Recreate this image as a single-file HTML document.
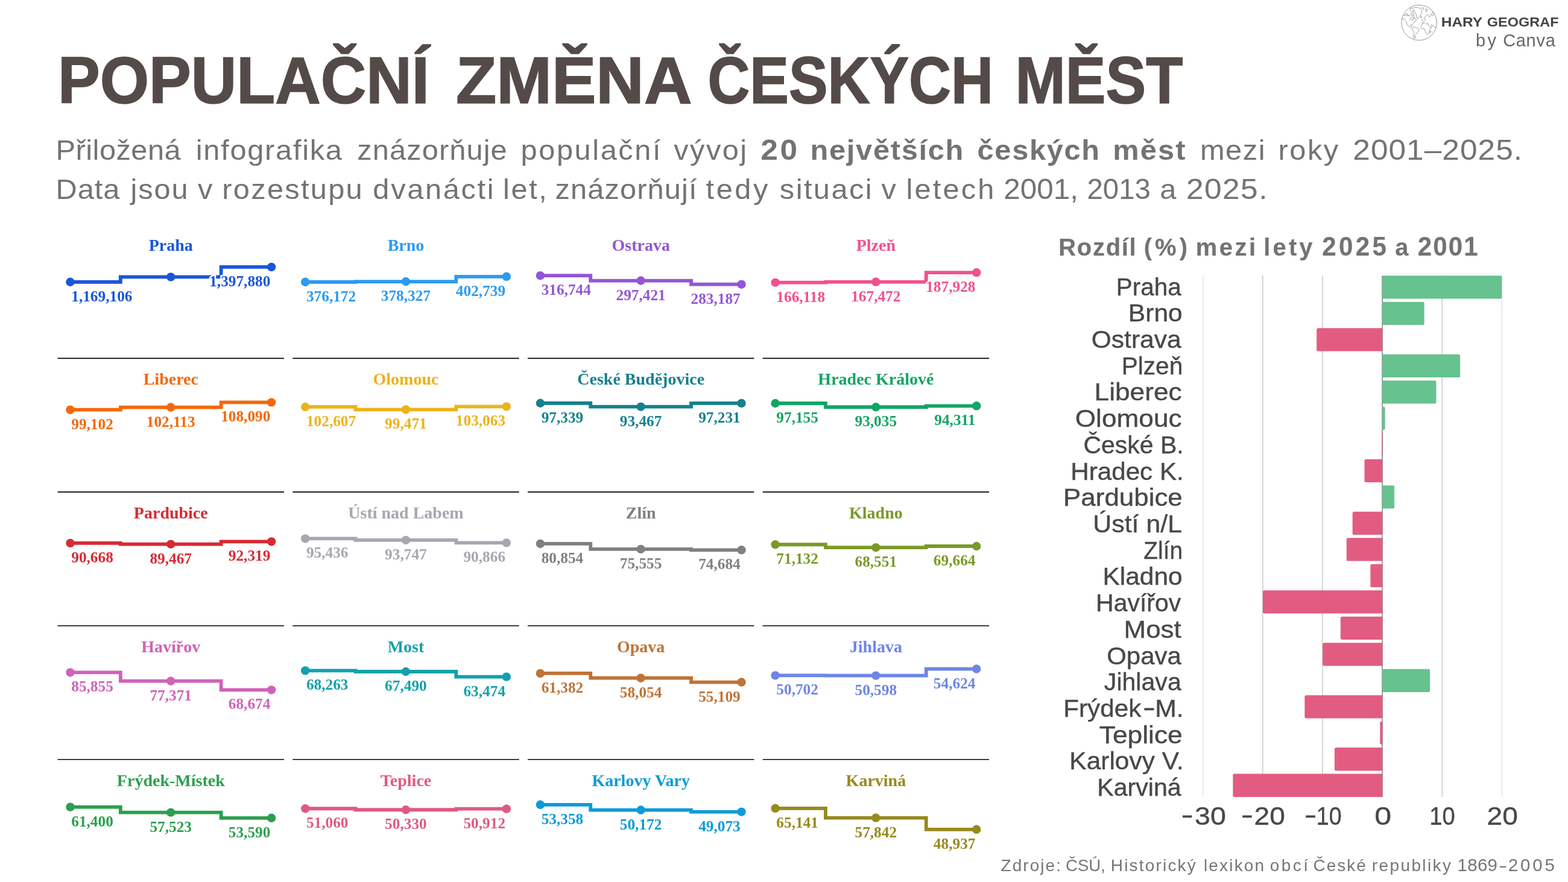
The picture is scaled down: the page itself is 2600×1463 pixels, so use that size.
<!DOCTYPE html>
<html lang="cs">
<head>
<meta charset="utf-8">
<title>Populační změna českých měst</title>
<style>
html,body{margin:0;padding:0;background:#fff;}
body{width:2600px;height:1463px;overflow:hidden;}
svg{display:block;}
text{white-space:pre;}
</style>
</head>
<body>
<svg xmlns="http://www.w3.org/2000/svg" width="2600" height="1463" viewBox="0 0 2600 1463">
<rect width="2600" height="1463" fill="#ffffff"/>
<g fill="none" stroke="#868686" stroke-width="0.8" stroke-linejoin="round" stroke-linecap="round"><circle cx="2353.15" cy="37.55" r="29.3" stroke="#8a8a8a" stroke-width="0.9"/><path d="M2338.29,15.01 L2339.32,13.87 L2341.91,13.35 L2344.50,13.20 L2346.57,12.52 L2349.67,12.16 L2351.84,12.42 L2353.19,13.76 L2355.88,13.97 L2358.73,13.04 L2360.54,12.94 L2361.31,13.87 L2360.12,15.42 L2358.21,16.14 L2356.40,17.49 L2357.02,19.40 L2356.66,21.73 L2355.88,24.32 L2355.26,26.49 L2353.40,27.32 L2352.15,28.72 L2351.38,30.94 L2350.29,31.36 L2349.26,30.27 L2348.74,27.43 L2348.12,24.32 L2347.34,21.22 L2345.53,20.28 L2344.24,19.56 L2343.36,17.85 L2343.98,16.46 L2345.27,16.46 L2345.53,17.59 L2344.60,18.37"/><path d="M2338.29,15.01 L2338.39,16.56 L2339.32,17.85 L2340.25,19.77 L2341.65,20.44 L2343.20,19.92"/><path d="M2363.64,15.52 L2364.94,14.75 L2366.75,15.01 L2367.26,15.52 L2365.97,16.30 L2365.45,17.59 L2366.49,18.37 L2366.23,19.40 L2364.68,19.66 L2363.64,18.37 L2363.38,16.82Z"/><path d="M2376.58,19.92 L2375.03,20.70 L2373.73,22.25 L2372.96,24.06 L2373.47,25.61 L2375.03,26.13 L2376.58,25.87 L2377.10,24.32 L2376.32,22.77 L2376.84,21.22"/><path d="M2324.57,31.57 L2326.90,31.05 L2328.45,31.82 L2330.01,33.64 L2331.30,35.19 L2332.34,37.77 L2333.11,40.36 L2334.40,42.43 L2335.70,42.95 L2337.25,45.02 L2339.32,45.54 L2341.39,46.31 L2342.43,47.35 L2341.39,48.90 L2342.43,50.97 L2343.98,52.26 L2345.01,54.33 L2344.24,56.92 L2343.46,60.03 L2343.46,62.61 L2344.50,63.65 L2345.53,63.39 L2345.79,61.06 L2346.82,57.96 L2348.64,55.89 L2350.19,53.82 L2352.00,52.26 L2353.29,49.94 L2352.26,48.12 L2350.19,46.83 L2348.12,46.05 L2346.05,45.54 L2343.98,45.02 L2342.43,44.50 L2340.87,43.47 L2339.32,42.95 L2338.80,41.91 L2340.36,41.40 L2342.43,40.36 L2343.98,38.29 L2346.05,35.71 L2348.64,34.15 L2347.60,32.34 L2346.05,31.05 L2345.53,28.98 L2345.01,26.91 L2343.98,24.84"/><path d="M2327.16,25.61 L2329.39,25.46 L2330.52,23.91 L2332.34,21.73 L2333.73,22.77 L2333.21,24.73 L2334.77,25.87 L2336.22,25.25 L2337.35,26.39 L2335.60,26.49 L2333.63,25.87 L2332.34,24.32 L2331.14,25.46 L2330.01,25.87"/><path d="M2339.84,22.77 L2342.94,22.51 L2343.98,24.32 L2342.94,25.87 L2340.87,25.61 L2339.32,24.32Z"/><path d="M2338.29,31.05 L2339.84,28.98 L2341.91,27.94 L2343.72,28.98 L2345.01,30.79 L2343.20,30.27 L2341.91,32.08 L2342.43,33.89 L2340.87,33.64 L2339.32,32.08Z"/><path d="M2368.82,28.20 L2370.37,27.94 L2371.40,26.91 L2369.33,25.36 L2367.26,24.06 L2365.45,24.84 L2363.90,26.91 L2362.35,29.24 L2361.31,30.79 L2363.12,31.57 L2363.90,32.60 L2362.35,33.64 L2360.54,35.71 L2358.98,37.26 L2357.95,38.81 L2358.98,39.84 L2360.54,37.77 L2362.61,37.26 L2364.68,39.33 L2366.23,40.36 L2367.26,38.29 L2368.30,39.84 L2369.33,42.43 L2370.89,44.50 L2372.44,45.54 L2373.99,43.98 L2375.03,42.43 L2372.96,41.14 L2374.51,41.91 L2376.58,42.95 L2378.13,45.02 L2379.68,46.05 L2381.49,44.50"/><path d="M2358.98,39.84 L2356.91,42.43 L2355.88,44.50 L2356.40,46.57 L2357.95,48.12 L2360.02,47.35 L2361.57,47.61 L2362.61,49.68 L2363.38,52.26 L2364.16,54.85 L2365.45,57.18 L2366.75,57.44 L2368.30,55.89 L2369.59,53.82 L2370.37,51.23 L2370.89,49.16 L2371.92,47.09 L2373.47,45.54"/><path d="M2370.89,51.75 L2372.44,51.49 L2372.18,53.82 L2371.14,54.33Z"/><path d="M2355.62,27.94 L2357.17,27.68 L2357.43,28.98 L2355.88,29.24Z"/><path d="M2357.69,32.86 L2358.73,33.12 L2358.36,33.89Z"/><path d="M2346.98,61.58 L2347.70,61.84 L2347.34,62.35Z"/></g>
<g>
<line x1="95.60" x2="471.00" y1="594.40" y2="594.40" stroke="#000" stroke-width="1.6"/>
<path d="M116.50,467.75 H199.85 V459.40 H366.65 V442.96 H450.10" fill="none" stroke="#1a56db" stroke-width="5.8" stroke-linejoin="miter"/>
<circle cx="116.50" cy="467.75" r="7.2" fill="#1a56db"/>
<circle cx="283.20" cy="459.40" r="7.2" fill="#1a56db"/>
<circle cx="450.10" cy="442.96" r="7.2" fill="#1a56db"/>
<text x="283.30" y="416.20" text-anchor="middle" font-family="'Liberation Serif', serif" font-weight="700" font-size="28.0" fill="#1a56db">Praha</text>
<text x="118.25" y="499.75" text-anchor="start" font-family="'Liberation Serif', serif" font-weight="700" font-size="25.3" fill="#1a56db" stroke="#fff" stroke-width="5" stroke-linejoin="round" paint-order="stroke">1,169,106</text>
<text x="448.35" y="474.96" text-anchor="end" font-family="'Liberation Serif', serif" font-weight="700" font-size="25.3" fill="#1a56db" stroke="#fff" stroke-width="5" stroke-linejoin="round" paint-order="stroke">1,397,880</text>
</g>
<g>
<line x1="485.30" x2="860.70" y1="594.40" y2="594.40" stroke="#000" stroke-width="1.6"/>
<path d="M506.20,467.76 H589.55 V467.03 H756.35 V458.81 H839.80" fill="none" stroke="#2b9af3" stroke-width="5.8" stroke-linejoin="miter"/>
<circle cx="506.20" cy="467.76" r="7.2" fill="#2b9af3"/>
<circle cx="672.90" cy="467.03" r="7.2" fill="#2b9af3"/>
<circle cx="839.80" cy="458.81" r="7.2" fill="#2b9af3"/>
<text x="673.00" y="416.20" text-anchor="middle" font-family="'Liberation Serif', serif" font-weight="700" font-size="28.0" fill="#2b9af3">Brno</text>
<text x="507.95" y="499.76" text-anchor="start" font-family="'Liberation Serif', serif" font-weight="700" font-size="25.3" fill="#2b9af3" stroke="#fff" stroke-width="5" stroke-linejoin="round" paint-order="stroke">376,172</text>
<text x="672.90" y="499.03" text-anchor="middle" font-family="'Liberation Serif', serif" font-weight="700" font-size="25.3" fill="#2b9af3" stroke="#fff" stroke-width="5" stroke-linejoin="round" paint-order="stroke">378,327</text>
<text x="838.05" y="490.81" text-anchor="end" font-family="'Liberation Serif', serif" font-weight="700" font-size="25.3" fill="#2b9af3" stroke="#fff" stroke-width="5" stroke-linejoin="round" paint-order="stroke">402,739</text>
</g>
<g>
<line x1="875.00" x2="1250.40" y1="594.40" y2="594.40" stroke="#000" stroke-width="1.6"/>
<path d="M895.90,457.16 H979.25 V465.53 H1146.05 V471.70 H1229.50" fill="none" stroke="#9455d6" stroke-width="5.8" stroke-linejoin="miter"/>
<circle cx="895.90" cy="457.16" r="7.2" fill="#9455d6"/>
<circle cx="1062.60" cy="465.53" r="7.2" fill="#9455d6"/>
<circle cx="1229.50" cy="471.70" r="7.2" fill="#9455d6"/>
<text x="1062.70" y="416.20" text-anchor="middle" font-family="'Liberation Serif', serif" font-weight="700" font-size="28.0" fill="#9455d6">Ostrava</text>
<text x="897.65" y="489.16" text-anchor="start" font-family="'Liberation Serif', serif" font-weight="700" font-size="25.3" fill="#9455d6" stroke="#fff" stroke-width="5" stroke-linejoin="round" paint-order="stroke">316,744</text>
<text x="1062.60" y="497.53" text-anchor="middle" font-family="'Liberation Serif', serif" font-weight="700" font-size="25.3" fill="#9455d6" stroke="#fff" stroke-width="5" stroke-linejoin="round" paint-order="stroke">297,421</text>
<text x="1227.75" y="503.70" text-anchor="end" font-family="'Liberation Serif', serif" font-weight="700" font-size="25.3" fill="#9455d6" stroke="#fff" stroke-width="5" stroke-linejoin="round" paint-order="stroke">283,187</text>
</g>
<g>
<line x1="1264.70" x2="1640.10" y1="594.40" y2="594.40" stroke="#000" stroke-width="1.6"/>
<path d="M1285.60,468.58 H1368.95 V467.56 H1535.75 V452.06 H1619.20" fill="none" stroke="#f2508f" stroke-width="5.8" stroke-linejoin="miter"/>
<circle cx="1285.60" cy="468.58" r="7.2" fill="#f2508f"/>
<circle cx="1452.30" cy="467.56" r="7.2" fill="#f2508f"/>
<circle cx="1619.20" cy="452.06" r="7.2" fill="#f2508f"/>
<text x="1452.40" y="416.20" text-anchor="middle" font-family="'Liberation Serif', serif" font-weight="700" font-size="28.0" fill="#f2508f">Plzeň</text>
<text x="1287.35" y="500.58" text-anchor="start" font-family="'Liberation Serif', serif" font-weight="700" font-size="25.3" fill="#f2508f" stroke="#fff" stroke-width="5" stroke-linejoin="round" paint-order="stroke">166,118</text>
<text x="1452.30" y="499.56" text-anchor="middle" font-family="'Liberation Serif', serif" font-weight="700" font-size="25.3" fill="#f2508f" stroke="#fff" stroke-width="5" stroke-linejoin="round" paint-order="stroke">167,472</text>
<text x="1617.45" y="484.06" text-anchor="end" font-family="'Liberation Serif', serif" font-weight="700" font-size="25.3" fill="#f2508f" stroke="#fff" stroke-width="5" stroke-linejoin="round" paint-order="stroke">187,928</text>
</g>
<g>
<line x1="95.60" x2="471.00" y1="816.17" y2="816.17" stroke="#000" stroke-width="1.6"/>
<path d="M116.50,679.71 H199.85 V675.56 H366.65 V667.33 H450.10" fill="none" stroke="#f5680a" stroke-width="5.8" stroke-linejoin="miter"/>
<circle cx="116.50" cy="679.71" r="7.2" fill="#f5680a"/>
<circle cx="283.20" cy="675.56" r="7.2" fill="#f5680a"/>
<circle cx="450.10" cy="667.33" r="7.2" fill="#f5680a"/>
<text x="283.30" y="638.15" text-anchor="middle" font-family="'Liberation Serif', serif" font-weight="700" font-size="28.0" fill="#f5680a">Liberec</text>
<text x="118.25" y="711.71" text-anchor="start" font-family="'Liberation Serif', serif" font-weight="700" font-size="25.3" fill="#f5680a" stroke="#fff" stroke-width="5" stroke-linejoin="round" paint-order="stroke">99,102</text>
<text x="283.20" y="707.56" text-anchor="middle" font-family="'Liberation Serif', serif" font-weight="700" font-size="25.3" fill="#f5680a" stroke="#fff" stroke-width="5" stroke-linejoin="round" paint-order="stroke">102,113</text>
<text x="448.35" y="699.33" text-anchor="end" font-family="'Liberation Serif', serif" font-weight="700" font-size="25.3" fill="#f5680a" stroke="#fff" stroke-width="5" stroke-linejoin="round" paint-order="stroke">108,090</text>
</g>
<g>
<line x1="485.30" x2="860.70" y1="816.17" y2="816.17" stroke="#000" stroke-width="1.6"/>
<path d="M506.20,674.97 H589.55 V679.29 H756.35 V674.34 H839.80" fill="none" stroke="#ecb318" stroke-width="5.8" stroke-linejoin="miter"/>
<circle cx="506.20" cy="674.97" r="7.2" fill="#ecb318"/>
<circle cx="672.90" cy="679.29" r="7.2" fill="#ecb318"/>
<circle cx="839.80" cy="674.34" r="7.2" fill="#ecb318"/>
<text x="673.00" y="638.15" text-anchor="middle" font-family="'Liberation Serif', serif" font-weight="700" font-size="28.0" fill="#ecb318">Olomouc</text>
<text x="507.95" y="706.97" text-anchor="start" font-family="'Liberation Serif', serif" font-weight="700" font-size="25.3" fill="#ecb318" stroke="#fff" stroke-width="5" stroke-linejoin="round" paint-order="stroke">102,607</text>
<text x="672.90" y="711.29" text-anchor="middle" font-family="'Liberation Serif', serif" font-weight="700" font-size="25.3" fill="#ecb318" stroke="#fff" stroke-width="5" stroke-linejoin="round" paint-order="stroke">99,471</text>
<text x="838.05" y="706.34" text-anchor="end" font-family="'Liberation Serif', serif" font-weight="700" font-size="25.3" fill="#ecb318" stroke="#fff" stroke-width="5" stroke-linejoin="round" paint-order="stroke">103,063</text>
</g>
<g>
<line x1="875.00" x2="1250.40" y1="816.17" y2="816.17" stroke="#000" stroke-width="1.6"/>
<path d="M895.90,668.76 H979.25 V674.62 H1146.05 V668.92 H1229.50" fill="none" stroke="#15808f" stroke-width="5.8" stroke-linejoin="miter"/>
<circle cx="895.90" cy="668.76" r="7.2" fill="#15808f"/>
<circle cx="1062.60" cy="674.62" r="7.2" fill="#15808f"/>
<circle cx="1229.50" cy="668.92" r="7.2" fill="#15808f"/>
<text x="1062.70" y="638.15" text-anchor="middle" font-family="'Liberation Serif', serif" font-weight="700" font-size="28.0" fill="#15808f">České Budějovice</text>
<text x="897.65" y="700.76" text-anchor="start" font-family="'Liberation Serif', serif" font-weight="700" font-size="25.3" fill="#15808f" stroke="#fff" stroke-width="5" stroke-linejoin="round" paint-order="stroke">97,339</text>
<text x="1062.60" y="706.62" text-anchor="middle" font-family="'Liberation Serif', serif" font-weight="700" font-size="25.3" fill="#15808f" stroke="#fff" stroke-width="5" stroke-linejoin="round" paint-order="stroke">93,467</text>
<text x="1227.75" y="700.92" text-anchor="end" font-family="'Liberation Serif', serif" font-weight="700" font-size="25.3" fill="#15808f" stroke="#fff" stroke-width="5" stroke-linejoin="round" paint-order="stroke">97,231</text>
</g>
<g>
<line x1="1264.70" x2="1640.10" y1="816.17" y2="816.17" stroke="#000" stroke-width="1.6"/>
<path d="M1285.60,669.01 H1368.95 V675.25 H1535.75 V673.32 H1619.20" fill="none" stroke="#12a564" stroke-width="5.8" stroke-linejoin="miter"/>
<circle cx="1285.60" cy="669.01" r="7.2" fill="#12a564"/>
<circle cx="1452.30" cy="675.25" r="7.2" fill="#12a564"/>
<circle cx="1619.20" cy="673.32" r="7.2" fill="#12a564"/>
<text x="1452.40" y="638.15" text-anchor="middle" font-family="'Liberation Serif', serif" font-weight="700" font-size="28.0" fill="#12a564">Hradec Králové</text>
<text x="1287.35" y="701.01" text-anchor="start" font-family="'Liberation Serif', serif" font-weight="700" font-size="25.3" fill="#12a564" stroke="#fff" stroke-width="5" stroke-linejoin="round" paint-order="stroke">97,155</text>
<text x="1452.30" y="707.25" text-anchor="middle" font-family="'Liberation Serif', serif" font-weight="700" font-size="25.3" fill="#12a564" stroke="#fff" stroke-width="5" stroke-linejoin="round" paint-order="stroke">93,035</text>
<text x="1617.45" y="705.32" text-anchor="end" font-family="'Liberation Serif', serif" font-weight="700" font-size="25.3" fill="#12a564" stroke="#fff" stroke-width="5" stroke-linejoin="round" paint-order="stroke">94,311</text>
</g>
<g>
<line x1="95.60" x2="471.00" y1="1037.94" y2="1037.94" stroke="#000" stroke-width="1.6"/>
<path d="M116.50,900.83 H199.85 V902.64 H366.65 V898.33 H450.10" fill="none" stroke="#d62b34" stroke-width="5.8" stroke-linejoin="miter"/>
<circle cx="116.50" cy="900.83" r="7.2" fill="#d62b34"/>
<circle cx="283.20" cy="902.64" r="7.2" fill="#d62b34"/>
<circle cx="450.10" cy="898.33" r="7.2" fill="#d62b34"/>
<text x="283.30" y="860.10" text-anchor="middle" font-family="'Liberation Serif', serif" font-weight="700" font-size="28.0" fill="#d62b34">Pardubice</text>
<text x="118.25" y="932.83" text-anchor="start" font-family="'Liberation Serif', serif" font-weight="700" font-size="25.3" fill="#d62b34" stroke="#fff" stroke-width="5" stroke-linejoin="round" paint-order="stroke">90,668</text>
<text x="283.20" y="934.64" text-anchor="middle" font-family="'Liberation Serif', serif" font-weight="700" font-size="25.3" fill="#d62b34" stroke="#fff" stroke-width="5" stroke-linejoin="round" paint-order="stroke">89,467</text>
<text x="448.35" y="930.33" text-anchor="end" font-family="'Liberation Serif', serif" font-weight="700" font-size="25.3" fill="#d62b34" stroke="#fff" stroke-width="5" stroke-linejoin="round" paint-order="stroke">92,319</text>
</g>
<g>
<line x1="485.30" x2="860.70" y1="1037.94" y2="1037.94" stroke="#000" stroke-width="1.6"/>
<path d="M506.20,893.40 H589.55 V895.96 H756.35 V900.33 H839.80" fill="none" stroke="#a5a8b0" stroke-width="5.8" stroke-linejoin="miter"/>
<circle cx="506.20" cy="893.40" r="7.2" fill="#a5a8b0"/>
<circle cx="672.90" cy="895.96" r="7.2" fill="#a5a8b0"/>
<circle cx="839.80" cy="900.33" r="7.2" fill="#a5a8b0"/>
<text x="673.00" y="860.10" text-anchor="middle" font-family="'Liberation Serif', serif" font-weight="700" font-size="28.0" fill="#a5a8b0">Ústí nad Labem</text>
<text x="507.95" y="925.40" text-anchor="start" font-family="'Liberation Serif', serif" font-weight="700" font-size="25.3" fill="#a5a8b0" stroke="#fff" stroke-width="5" stroke-linejoin="round" paint-order="stroke">95,436</text>
<text x="672.90" y="927.96" text-anchor="middle" font-family="'Liberation Serif', serif" font-weight="700" font-size="25.3" fill="#a5a8b0" stroke="#fff" stroke-width="5" stroke-linejoin="round" paint-order="stroke">93,747</text>
<text x="838.05" y="932.33" text-anchor="end" font-family="'Liberation Serif', serif" font-weight="700" font-size="25.3" fill="#a5a8b0" stroke="#fff" stroke-width="5" stroke-linejoin="round" paint-order="stroke">90,866</text>
</g>
<g>
<line x1="875.00" x2="1250.40" y1="1037.94" y2="1037.94" stroke="#000" stroke-width="1.6"/>
<path d="M895.90,901.94 H979.25 V910.85 H1146.05 V912.32 H1229.50" fill="none" stroke="#808080" stroke-width="5.8" stroke-linejoin="miter"/>
<circle cx="895.90" cy="901.94" r="7.2" fill="#808080"/>
<circle cx="1062.60" cy="910.85" r="7.2" fill="#808080"/>
<circle cx="1229.50" cy="912.32" r="7.2" fill="#808080"/>
<text x="1062.70" y="860.10" text-anchor="middle" font-family="'Liberation Serif', serif" font-weight="700" font-size="28.0" fill="#808080">Zlín</text>
<text x="897.65" y="933.94" text-anchor="start" font-family="'Liberation Serif', serif" font-weight="700" font-size="25.3" fill="#808080" stroke="#fff" stroke-width="5" stroke-linejoin="round" paint-order="stroke">80,854</text>
<text x="1062.60" y="942.85" text-anchor="middle" font-family="'Liberation Serif', serif" font-weight="700" font-size="25.3" fill="#808080" stroke="#fff" stroke-width="5" stroke-linejoin="round" paint-order="stroke">75,555</text>
<text x="1227.75" y="944.32" text-anchor="end" font-family="'Liberation Serif', serif" font-weight="700" font-size="25.3" fill="#808080" stroke="#fff" stroke-width="5" stroke-linejoin="round" paint-order="stroke">74,684</text>
</g>
<g>
<line x1="1264.70" x2="1640.10" y1="1037.94" y2="1037.94" stroke="#000" stroke-width="1.6"/>
<path d="M1285.60,903.24 H1368.95 V908.13 H1535.75 V906.02 H1619.20" fill="none" stroke="#7a9a27" stroke-width="5.8" stroke-linejoin="miter"/>
<circle cx="1285.60" cy="903.24" r="7.2" fill="#7a9a27"/>
<circle cx="1452.30" cy="908.13" r="7.2" fill="#7a9a27"/>
<circle cx="1619.20" cy="906.02" r="7.2" fill="#7a9a27"/>
<text x="1452.40" y="860.10" text-anchor="middle" font-family="'Liberation Serif', serif" font-weight="700" font-size="28.0" fill="#7a9a27">Kladno</text>
<text x="1287.35" y="935.24" text-anchor="start" font-family="'Liberation Serif', serif" font-weight="700" font-size="25.3" fill="#7a9a27" stroke="#fff" stroke-width="5" stroke-linejoin="round" paint-order="stroke">71,132</text>
<text x="1452.30" y="940.13" text-anchor="middle" font-family="'Liberation Serif', serif" font-weight="700" font-size="25.3" fill="#7a9a27" stroke="#fff" stroke-width="5" stroke-linejoin="round" paint-order="stroke">68,551</text>
<text x="1617.45" y="938.02" text-anchor="end" font-family="'Liberation Serif', serif" font-weight="700" font-size="25.3" fill="#7a9a27" stroke="#fff" stroke-width="5" stroke-linejoin="round" paint-order="stroke">69,664</text>
</g>
<g>
<line x1="95.60" x2="471.00" y1="1259.71" y2="1259.71" stroke="#000" stroke-width="1.6"/>
<path d="M116.50,1115.46 H199.85 V1129.71 H366.65 V1144.33 H450.10" fill="none" stroke="#d062b8" stroke-width="5.8" stroke-linejoin="miter"/>
<circle cx="116.50" cy="1115.46" r="7.2" fill="#d062b8"/>
<circle cx="283.20" cy="1129.71" r="7.2" fill="#d062b8"/>
<circle cx="450.10" cy="1144.33" r="7.2" fill="#d062b8"/>
<text x="283.30" y="1082.05" text-anchor="middle" font-family="'Liberation Serif', serif" font-weight="700" font-size="28.0" fill="#d062b8">Havířov</text>
<text x="118.25" y="1147.46" text-anchor="start" font-family="'Liberation Serif', serif" font-weight="700" font-size="25.3" fill="#d062b8" stroke="#fff" stroke-width="5" stroke-linejoin="round" paint-order="stroke">85,855</text>
<text x="283.20" y="1161.71" text-anchor="middle" font-family="'Liberation Serif', serif" font-weight="700" font-size="25.3" fill="#d062b8" stroke="#fff" stroke-width="5" stroke-linejoin="round" paint-order="stroke">77,371</text>
<text x="448.35" y="1176.33" text-anchor="end" font-family="'Liberation Serif', serif" font-weight="700" font-size="25.3" fill="#d062b8" stroke="#fff" stroke-width="5" stroke-linejoin="round" paint-order="stroke">68,674</text>
</g>
<g>
<line x1="485.30" x2="860.70" y1="1259.71" y2="1259.71" stroke="#000" stroke-width="1.6"/>
<path d="M506.20,1112.33 H589.55 V1114.00 H756.35 V1122.67 H839.80" fill="none" stroke="#12a1ac" stroke-width="5.8" stroke-linejoin="miter"/>
<circle cx="506.20" cy="1112.33" r="7.2" fill="#12a1ac"/>
<circle cx="672.90" cy="1114.00" r="7.2" fill="#12a1ac"/>
<circle cx="839.80" cy="1122.67" r="7.2" fill="#12a1ac"/>
<text x="673.00" y="1082.05" text-anchor="middle" font-family="'Liberation Serif', serif" font-weight="700" font-size="28.0" fill="#12a1ac">Most</text>
<text x="507.95" y="1144.33" text-anchor="start" font-family="'Liberation Serif', serif" font-weight="700" font-size="25.3" fill="#12a1ac" stroke="#fff" stroke-width="5" stroke-linejoin="round" paint-order="stroke">68,263</text>
<text x="672.90" y="1146.00" text-anchor="middle" font-family="'Liberation Serif', serif" font-weight="700" font-size="25.3" fill="#12a1ac" stroke="#fff" stroke-width="5" stroke-linejoin="round" paint-order="stroke">67,490</text>
<text x="838.05" y="1154.67" text-anchor="end" font-family="'Liberation Serif', serif" font-weight="700" font-size="25.3" fill="#12a1ac" stroke="#fff" stroke-width="5" stroke-linejoin="round" paint-order="stroke">63,474</text>
</g>
<g>
<line x1="875.00" x2="1250.40" y1="1259.71" y2="1259.71" stroke="#000" stroke-width="1.6"/>
<path d="M895.90,1116.96 H979.25 V1124.70 H1146.05 V1131.55 H1229.50" fill="none" stroke="#c07336" stroke-width="5.8" stroke-linejoin="miter"/>
<circle cx="895.90" cy="1116.96" r="7.2" fill="#c07336"/>
<circle cx="1062.60" cy="1124.70" r="7.2" fill="#c07336"/>
<circle cx="1229.50" cy="1131.55" r="7.2" fill="#c07336"/>
<text x="1062.70" y="1082.05" text-anchor="middle" font-family="'Liberation Serif', serif" font-weight="700" font-size="28.0" fill="#c07336">Opava</text>
<text x="897.65" y="1148.96" text-anchor="start" font-family="'Liberation Serif', serif" font-weight="700" font-size="25.3" fill="#c07336" stroke="#fff" stroke-width="5" stroke-linejoin="round" paint-order="stroke">61,382</text>
<text x="1062.60" y="1156.70" text-anchor="middle" font-family="'Liberation Serif', serif" font-weight="700" font-size="25.3" fill="#c07336" stroke="#fff" stroke-width="5" stroke-linejoin="round" paint-order="stroke">58,054</text>
<text x="1227.75" y="1163.55" text-anchor="end" font-family="'Liberation Serif', serif" font-weight="700" font-size="25.3" fill="#c07336" stroke="#fff" stroke-width="5" stroke-linejoin="round" paint-order="stroke">55,109</text>
</g>
<g>
<line x1="1264.70" x2="1640.10" y1="1259.71" y2="1259.71" stroke="#000" stroke-width="1.6"/>
<path d="M1285.60,1120.33 H1368.95 V1120.62 H1535.75 V1109.55 H1619.20" fill="none" stroke="#6e85e5" stroke-width="5.8" stroke-linejoin="miter"/>
<circle cx="1285.60" cy="1120.33" r="7.2" fill="#6e85e5"/>
<circle cx="1452.30" cy="1120.62" r="7.2" fill="#6e85e5"/>
<circle cx="1619.20" cy="1109.55" r="7.2" fill="#6e85e5"/>
<text x="1452.40" y="1082.05" text-anchor="middle" font-family="'Liberation Serif', serif" font-weight="700" font-size="28.0" fill="#6e85e5">Jihlava</text>
<text x="1287.35" y="1152.33" text-anchor="start" font-family="'Liberation Serif', serif" font-weight="700" font-size="25.3" fill="#6e85e5" stroke="#fff" stroke-width="5" stroke-linejoin="round" paint-order="stroke">50,702</text>
<text x="1452.30" y="1152.62" text-anchor="middle" font-family="'Liberation Serif', serif" font-weight="700" font-size="25.3" fill="#6e85e5" stroke="#fff" stroke-width="5" stroke-linejoin="round" paint-order="stroke">50,598</text>
<text x="1617.45" y="1141.55" text-anchor="end" font-family="'Liberation Serif', serif" font-weight="700" font-size="25.3" fill="#6e85e5" stroke="#fff" stroke-width="5" stroke-linejoin="round" paint-order="stroke">54,624</text>
</g>
<g>
<path d="M116.50,1338.64 H199.85 V1347.66 H366.65 V1356.81 H450.10" fill="none" stroke="#2ca04e" stroke-width="5.8" stroke-linejoin="miter"/>
<circle cx="116.50" cy="1338.64" r="7.2" fill="#2ca04e"/>
<circle cx="283.20" cy="1347.66" r="7.2" fill="#2ca04e"/>
<circle cx="450.10" cy="1356.81" r="7.2" fill="#2ca04e"/>
<text x="283.30" y="1304.00" text-anchor="middle" font-family="'Liberation Serif', serif" font-weight="700" font-size="28.0" fill="#2ca04e">Frýdek-Místek</text>
<text x="118.25" y="1370.64" text-anchor="start" font-family="'Liberation Serif', serif" font-weight="700" font-size="25.3" fill="#2ca04e" stroke="#fff" stroke-width="5" stroke-linejoin="round" paint-order="stroke">61,400</text>
<text x="283.20" y="1379.66" text-anchor="middle" font-family="'Liberation Serif', serif" font-weight="700" font-size="25.3" fill="#2ca04e" stroke="#fff" stroke-width="5" stroke-linejoin="round" paint-order="stroke">57,523</text>
<text x="448.35" y="1388.81" text-anchor="end" font-family="'Liberation Serif', serif" font-weight="700" font-size="25.3" fill="#2ca04e" stroke="#fff" stroke-width="5" stroke-linejoin="round" paint-order="stroke">53,590</text>
</g>
<g>
<path d="M506.20,1341.26 H589.55 V1343.27 H756.35 V1341.67 H839.80" fill="none" stroke="#e05a80" stroke-width="5.8" stroke-linejoin="miter"/>
<circle cx="506.20" cy="1341.26" r="7.2" fill="#e05a80"/>
<circle cx="672.90" cy="1343.27" r="7.2" fill="#e05a80"/>
<circle cx="839.80" cy="1341.67" r="7.2" fill="#e05a80"/>
<text x="673.00" y="1304.00" text-anchor="middle" font-family="'Liberation Serif', serif" font-weight="700" font-size="28.0" fill="#e05a80">Teplice</text>
<text x="507.95" y="1373.26" text-anchor="start" font-family="'Liberation Serif', serif" font-weight="700" font-size="25.3" fill="#e05a80" stroke="#fff" stroke-width="5" stroke-linejoin="round" paint-order="stroke">51,060</text>
<text x="672.90" y="1375.27" text-anchor="middle" font-family="'Liberation Serif', serif" font-weight="700" font-size="25.3" fill="#e05a80" stroke="#fff" stroke-width="5" stroke-linejoin="round" paint-order="stroke">50,330</text>
<text x="838.05" y="1373.67" text-anchor="end" font-family="'Liberation Serif', serif" font-weight="700" font-size="25.3" fill="#e05a80" stroke="#fff" stroke-width="5" stroke-linejoin="round" paint-order="stroke">50,912</text>
</g>
<g>
<path d="M895.90,1334.82 H979.25 V1343.57 H1146.05 V1346.59 H1229.50" fill="none" stroke="#0d9bd8" stroke-width="5.8" stroke-linejoin="miter"/>
<circle cx="895.90" cy="1334.82" r="7.2" fill="#0d9bd8"/>
<circle cx="1062.60" cy="1343.57" r="7.2" fill="#0d9bd8"/>
<circle cx="1229.50" cy="1346.59" r="7.2" fill="#0d9bd8"/>
<text x="1062.70" y="1304.00" text-anchor="middle" font-family="'Liberation Serif', serif" font-weight="700" font-size="28.0" fill="#0d9bd8">Karlovy Vary</text>
<text x="897.65" y="1366.82" text-anchor="start" font-family="'Liberation Serif', serif" font-weight="700" font-size="25.3" fill="#0d9bd8" stroke="#fff" stroke-width="5" stroke-linejoin="round" paint-order="stroke">53,358</text>
<text x="1062.60" y="1375.57" text-anchor="middle" font-family="'Liberation Serif', serif" font-weight="700" font-size="25.3" fill="#0d9bd8" stroke="#fff" stroke-width="5" stroke-linejoin="round" paint-order="stroke">50,172</text>
<text x="1227.75" y="1378.59" text-anchor="end" font-family="'Liberation Serif', serif" font-weight="700" font-size="25.3" fill="#0d9bd8" stroke="#fff" stroke-width="5" stroke-linejoin="round" paint-order="stroke">49,073</text>
</g>
<g>
<path d="M1285.60,1340.81 H1368.95 V1356.57 H1535.75 V1375.80 H1619.20" fill="none" stroke="#978a1e" stroke-width="5.8" stroke-linejoin="miter"/>
<circle cx="1285.60" cy="1340.81" r="7.2" fill="#978a1e"/>
<circle cx="1452.30" cy="1356.57" r="7.2" fill="#978a1e"/>
<circle cx="1619.20" cy="1375.80" r="7.2" fill="#978a1e"/>
<text x="1452.40" y="1304.00" text-anchor="middle" font-family="'Liberation Serif', serif" font-weight="700" font-size="28.0" fill="#978a1e">Karviná</text>
<text x="1287.35" y="1372.81" text-anchor="start" font-family="'Liberation Serif', serif" font-weight="700" font-size="25.3" fill="#978a1e" stroke="#fff" stroke-width="5" stroke-linejoin="round" paint-order="stroke">65,141</text>
<text x="1452.30" y="1388.57" text-anchor="middle" font-family="'Liberation Serif', serif" font-weight="700" font-size="25.3" fill="#978a1e" stroke="#fff" stroke-width="5" stroke-linejoin="round" paint-order="stroke">57,842</text>
<text x="1617.45" y="1407.80" text-anchor="end" font-family="'Liberation Serif', serif" font-weight="700" font-size="25.3" fill="#978a1e" stroke="#fff" stroke-width="5" stroke-linejoin="round" paint-order="stroke">48,937</text>
</g>
<g>
<rect x="1994.63" y="456.9" width="0.65" height="865.10" fill="#c1c1c1"/>
<rect x="2093.14" y="456.9" width="1.30" height="865.10" fill="#c1c1c1"/>
<rect x="2192.31" y="456.9" width="1.30" height="865.10" fill="#c1c1c1"/>
<rect x="2291.32" y="456.9" width="1.5" height="865.10" fill="#808080"/>
<rect x="2390.64" y="456.9" width="1.30" height="865.10" fill="#c1c1c1"/>
<rect x="2489.80" y="456.9" width="0.65" height="865.10" fill="#c1c1c1"/>
<path d="M2292.27,457.30 H2487.70 Q2490.30,457.30 2490.30,459.90 V493.00 Q2490.30,495.60 2487.70,495.60 H2292.27 Z" fill="#66c28f"/>
<path d="M2292.27,500.79 H2359.09 Q2361.69,500.79 2361.69,503.39 V536.49 Q2361.69,539.09 2359.09,539.09 H2292.27 Z" fill="#66c28f"/>
<path d="M2292.27,544.28 H2185.79 Q2183.19,544.28 2183.19,546.88 V579.98 Q2183.19,582.58 2185.79,582.58 H2292.27 Z" fill="#e25c81"/>
<path d="M2292.27,587.77 H2418.59 Q2421.19,587.77 2421.19,590.37 V623.47 Q2421.19,626.07 2418.59,626.07 H2292.27 Z" fill="#66c28f"/>
<path d="M2292.27,631.26 H2378.92 Q2381.52,631.26 2381.52,633.86 V666.96 Q2381.52,669.56 2378.92,669.56 H2292.27 Z" fill="#66c28f"/>
<path d="M2292.27,674.75 H2294.50 Q2296.73,674.75 2296.73,676.98 V710.82 Q2296.73,713.05 2294.50,713.05 H2292.27 Z" fill="#66c28f"/>
<path d="M2292.27,718.24 H2291.68 Q2291.08,718.24 2291.08,718.83 V755.95 Q2291.08,756.54 2291.68,756.54 H2292.27 Z" fill="#e25c81"/>
<path d="M2292.27,761.73 H2265.12 Q2262.52,761.73 2262.52,764.33 V797.43 Q2262.52,800.03 2265.12,800.03 H2292.27 Z" fill="#e25c81"/>
<path d="M2292.27,805.22 H2309.50 Q2312.10,805.22 2312.10,807.82 V840.92 Q2312.10,843.52 2309.50,843.52 H2292.27 Z" fill="#66c28f"/>
<path d="M2292.27,848.71 H2245.29 Q2242.69,848.71 2242.69,851.31 V884.41 Q2242.69,887.01 2245.29,887.01 H2292.27 Z" fill="#e25c81"/>
<path d="M2292.27,892.20 H2235.37 Q2232.77,892.20 2232.77,894.80 V927.90 Q2232.77,930.50 2235.37,930.50 H2292.27 Z" fill="#e25c81"/>
<path d="M2292.27,935.69 H2275.04 Q2272.44,935.69 2272.44,938.29 V971.39 Q2272.44,973.99 2275.04,973.99 H2292.27 Z" fill="#e25c81"/>
<path d="M2292.27,979.18 H2096.54 Q2093.94,979.18 2093.94,981.78 V1014.88 Q2093.94,1017.48 2096.54,1017.48 H2292.27 Z" fill="#e25c81"/>
<path d="M2292.27,1022.67 H2225.46 Q2222.86,1022.67 2222.86,1025.27 V1058.37 Q2222.86,1060.97 2225.46,1060.97 H2292.27 Z" fill="#e25c81"/>
<path d="M2292.27,1066.16 H2195.71 Q2193.11,1066.16 2193.11,1068.76 V1101.86 Q2193.11,1104.46 2195.71,1104.46 H2292.27 Z" fill="#e25c81"/>
<path d="M2292.27,1109.65 H2368.51 Q2371.11,1109.65 2371.11,1112.25 V1145.35 Q2371.11,1147.95 2368.51,1147.95 H2292.27 Z" fill="#66c28f"/>
<path d="M2292.27,1153.14 H2165.96 Q2163.36,1153.14 2163.36,1155.74 V1188.84 Q2163.36,1191.44 2165.96,1191.44 H2292.27 Z" fill="#e25c81"/>
<path d="M2292.27,1196.63 H2290.29 Q2288.31,1196.63 2288.31,1198.61 V1232.95 Q2288.31,1234.93 2290.29,1234.93 H2292.27 Z" fill="#e25c81"/>
<path d="M2292.27,1240.12 H2215.54 Q2212.94,1240.12 2212.94,1242.72 V1275.82 Q2212.94,1278.42 2215.54,1278.42 H2292.27 Z" fill="#e25c81"/>
<path d="M2292.27,1283.61 H2046.96 Q2044.36,1283.61 2044.36,1286.21 V1319.31 Q2044.36,1321.91 2046.96,1321.91 H2292.27 Z" fill="#e25c81"/>
</g>
<text font-family="'Liberation Sans', sans-serif" font-size="109.60" font-weight="700" fill="#544b48" stroke="#544b48" stroke-width="1.7" stroke-linejoin="miter"><tspan x="95.91" y="170.70" textLength="616.01" lengthAdjust="spacingAndGlyphs">POPULAČNÍ</tspan> <tspan x="755.95" y="170.70" textLength="387.38" lengthAdjust="spacingAndGlyphs">ZMĚNA</tspan> <tspan x="1173.42" y="170.70" textLength="473.61" lengthAdjust="spacingAndGlyphs">ČESKÝCH</tspan> <tspan x="1683.60" y="170.70" textLength="277.69" lengthAdjust="spacingAndGlyphs">MĚST</tspan></text>
<text transform="scale(1.0700 1)" font-family="'Liberation Sans', sans-serif" font-size="45.60" font-weight="400" fill="#737373"><tspan x="86.53" y="264.60" letter-spacing="0.431">Přiložená</tspan> <tspan x="303.51" y="264.60" letter-spacing="1.600">infografika</tspan> <tspan x="553.53" y="264.60" letter-spacing="1.018">znázorňuje</tspan> <tspan x="807.06" y="264.60" letter-spacing="2.380">populační</tspan> <tspan x="1044.11" y="264.60" letter-spacing="2.302">vývoj</tspan> <tspan x="1178.68" y="264.60" font-weight="700" font-size="48.11" letter-spacing="3.400">20</tspan> <tspan x="1255.56" y="264.60" font-weight="700" letter-spacing="1.595">největších</tspan> <tspan x="1514.56" y="264.60" font-weight="700" letter-spacing="1.552">českých</tspan> <tspan x="1724.44" y="264.60" font-weight="700" letter-spacing="2.020">měst</tspan> <tspan x="1859.77" y="264.60" letter-spacing="1.417">mezi</tspan> <tspan x="1980.89" y="264.60" letter-spacing="2.328">roky</tspan> <tspan x="2096.53" y="264.60" font-size="48.11" letter-spacing="0.925">2001–2025.</tspan> <tspan x="86.53" y="329.70" letter-spacing="0.822">Data</tspan> <tspan x="202.36" y="329.70" letter-spacing="1.747">jsou</tspan> <tspan x="306.45" y="329.70">v</tspan> <tspan x="344.25" y="329.70" letter-spacing="2.116">rozestupu</tspan> <tspan x="577.92" y="329.70" letter-spacing="2.471">dvanácti</tspan> <tspan x="779.49" y="329.70" letter-spacing="2.401">let,</tspan> <tspan x="860.35" y="329.70" letter-spacing="1.022">znázorňují</tspan> <tspan x="1094.02" y="329.70" letter-spacing="3.295">tedy</tspan> <tspan x="1208.26" y="329.70" letter-spacing="2.255">situaci</tspan> <tspan x="1365.89" y="329.70">v</tspan> <tspan x="1404.16" y="329.70" letter-spacing="2.933">letech</tspan> <tspan x="1555.31" y="329.70" font-size="48.11" textLength="115.72" lengthAdjust="spacingAndGlyphs">2001,</tspan> <tspan x="1684.56" y="329.70" font-size="48.11" textLength="98.54" lengthAdjust="spacingAndGlyphs">2013</tspan> <tspan x="1797.40" y="329.70">a</tspan> <tspan x="1838.40" y="329.70" font-size="48.11" letter-spacing="1.296">2025.</tspan></text>
<text font-family="'Liberation Sans', sans-serif" font-size="22.50" font-weight="700" fill="#444444"><tspan x="2389.78" y="43.85" textLength="67.98" lengthAdjust="spacingAndGlyphs">HARY</tspan> <tspan x="2465.77" y="43.85" textLength="118.80" lengthAdjust="spacingAndGlyphs">GEOGRAF</tspan></text>
<text font-family="'Liberation Sans', sans-serif" font-size="29.00" font-weight="400" fill="#666666"><tspan x="2446.89" y="77.40" letter-spacing="3.584">by</tspan> <tspan x="2492.14" y="77.40" letter-spacing="0.712">Canva</tspan></text>
<text transform="scale(0.9700 1)" font-family="'Liberation Sans', sans-serif" font-size="41.20" font-weight="700" fill="#737373" stroke="#737373" stroke-width="0.2" stroke-linejoin="miter"><tspan x="1809.59" y="424.40" letter-spacing="1.770">Rozdíl</tspan> <tspan x="1955.39" y="424.40" letter-spacing="5.189">(%)</tspan> <tspan x="2044.13" y="424.40" letter-spacing="3.578">mezi</tspan> <tspan x="2160.11" y="424.40" letter-spacing="4.254">lety</tspan> <tspan x="2259.98" y="424.40" font-size="43.47" letter-spacing="4.458">2025</tspan> <tspan x="2384.74" y="424.40">a</tspan> <tspan x="2423.38" y="424.40" font-size="43.47" letter-spacing="2.121">2001</tspan></text>
<text font-family="'Liberation Sans', sans-serif" font-size="41.20" font-weight="400" fill="#484848" stroke="#484848" stroke-width="0.4" stroke-linejoin="miter"><tspan x="1850.74" y="489.50" textLength="108.01" lengthAdjust="spacingAndGlyphs">Praha</tspan></text>
<text font-family="'Liberation Sans', sans-serif" font-size="41.20" font-weight="400" fill="#484848" stroke="#484848" stroke-width="0.4" stroke-linejoin="miter"><tspan x="1870.88" y="533.22" textLength="89.85" lengthAdjust="spacingAndGlyphs">Brno</tspan></text>
<text font-family="'Liberation Sans', sans-serif" font-size="41.20" font-weight="400" fill="#484848" stroke="#484848" stroke-width="0.4" stroke-linejoin="miter"><tspan x="1809.70" y="576.94" textLength="149.03" lengthAdjust="spacingAndGlyphs">Ostrava</tspan></text>
<text font-family="'Liberation Sans', sans-serif" font-size="41.20" font-weight="400" fill="#484848" stroke="#484848" stroke-width="0.4" stroke-linejoin="miter"><tspan x="1859.73" y="620.66" textLength="101.55" lengthAdjust="spacingAndGlyphs">Plzeň</tspan></text>
<text font-family="'Liberation Sans', sans-serif" font-size="41.20" font-weight="400" fill="#484848" stroke="#484848" stroke-width="0.4" stroke-linejoin="miter"><tspan x="1814.54" y="664.38" textLength="145.15" lengthAdjust="spacingAndGlyphs">Liberec</tspan></text>
<text font-family="'Liberation Sans', sans-serif" font-size="41.20" font-weight="400" fill="#484848" stroke="#484848" stroke-width="0.4" stroke-linejoin="miter"><tspan x="1782.73" y="708.10" textLength="176.96" lengthAdjust="spacingAndGlyphs">Olomouc</tspan></text>
<text font-family="'Liberation Sans', sans-serif" font-size="41.20" font-weight="400" fill="#484848" stroke="#484848" stroke-width="0.4" stroke-linejoin="miter"><tspan x="1796.38" y="751.82" textLength="166.32" lengthAdjust="spacingAndGlyphs">České B.</tspan></text>
<text font-family="'Liberation Sans', sans-serif" font-size="41.20" font-weight="400" fill="#484848" stroke="#484848" stroke-width="0.4" stroke-linejoin="miter"><tspan x="1775.20" y="795.54" textLength="187.61" lengthAdjust="spacingAndGlyphs">Hradec K.</tspan></text>
<text font-family="'Liberation Sans', sans-serif" font-size="41.20" font-weight="400" fill="#484848" stroke="#484848" stroke-width="0.4" stroke-linejoin="miter"><tspan x="1763.07" y="839.26" textLength="197.71" lengthAdjust="spacingAndGlyphs">Pardubice</tspan></text>
<text font-family="'Liberation Sans', sans-serif" font-size="41.20" font-weight="400" fill="#484848" stroke="#484848" stroke-width="0.4" stroke-linejoin="miter"><tspan x="1812.22" y="882.98" textLength="147.85" lengthAdjust="spacingAndGlyphs">Ústí n/L</tspan></text>
<text font-family="'Liberation Sans', sans-serif" font-size="41.20" font-weight="400" fill="#484848" stroke="#484848" stroke-width="0.4" stroke-linejoin="miter"><tspan x="1896.28" y="926.70" textLength="64.90" lengthAdjust="spacingAndGlyphs">Zlín</tspan></text>
<text font-family="'Liberation Sans', sans-serif" font-size="41.20" font-weight="400" fill="#484848" stroke="#484848" stroke-width="0.4" stroke-linejoin="miter"><tspan x="1828.48" y="970.42" textLength="132.24" lengthAdjust="spacingAndGlyphs">Kladno</tspan></text>
<text font-family="'Liberation Sans', sans-serif" font-size="41.20" font-weight="400" fill="#484848" stroke="#484848" stroke-width="0.4" stroke-linejoin="miter"><tspan x="1817.10" y="1014.14" textLength="141.10" lengthAdjust="spacingAndGlyphs">Havířov</tspan></text>
<text font-family="'Liberation Sans', sans-serif" font-size="41.20" font-weight="400" fill="#484848" stroke="#484848" stroke-width="0.4" stroke-linejoin="miter"><tspan x="1863.56" y="1057.86" textLength="95.28" lengthAdjust="spacingAndGlyphs">Most</tspan></text>
<text font-family="'Liberation Sans', sans-serif" font-size="41.20" font-weight="400" fill="#484848" stroke="#484848" stroke-width="0.4" stroke-linejoin="miter"><tspan x="1835.24" y="1101.58" textLength="123.50" lengthAdjust="spacingAndGlyphs">Opava</tspan></text>
<text font-family="'Liberation Sans', sans-serif" font-size="41.20" font-weight="400" fill="#484848" stroke="#484848" stroke-width="0.4" stroke-linejoin="miter"><tspan x="1830.86" y="1145.30" textLength="127.88" lengthAdjust="spacingAndGlyphs">Jihlava</tspan></text>
<text font-family="'Liberation Sans', sans-serif" font-size="41.20" font-weight="400" fill="#484848" stroke="#484848" stroke-width="0.4" stroke-linejoin="miter"><tspan x="1763.20" y="1189.02" textLength="129.14" lengthAdjust="spacingAndGlyphs">Frýdek</tspan><tspan x="1894.94" y="1187.02" textLength="20.94" lengthAdjust="spacingAndGlyphs">-</tspan><tspan x="1915.17" y="1189.02" textLength="47.39" lengthAdjust="spacingAndGlyphs">M.</tspan></text>
<text font-family="'Liberation Sans', sans-serif" font-size="41.20" font-weight="400" fill="#484848" stroke="#484848" stroke-width="0.4" stroke-linejoin="miter"><tspan x="1822.71" y="1232.74" textLength="138.09" lengthAdjust="spacingAndGlyphs">Teplice</tspan></text>
<text font-family="'Liberation Sans', sans-serif" font-size="41.20" font-weight="400" fill="#484848" stroke="#484848" stroke-width="0.4" stroke-linejoin="miter"><tspan x="1773.39" y="1276.46" textLength="189.45" lengthAdjust="spacingAndGlyphs">Karlovy V.</tspan></text>
<text font-family="'Liberation Sans', sans-serif" font-size="41.20" font-weight="400" fill="#484848" stroke="#484848" stroke-width="0.4" stroke-linejoin="miter"><tspan x="1819.29" y="1320.18" textLength="139.45" lengthAdjust="spacingAndGlyphs">Karviná</tspan></text>
<text font-family="'Liberation Sans', sans-serif" font-size="43.00" font-weight="400" fill="#484848" stroke="#484848" stroke-width="0.4" stroke-linejoin="miter"><tspan x="1958.41" y="1365.80" textLength="20.18" lengthAdjust="spacingAndGlyphs">-</tspan><tspan x="1981.04" y="1368.30" textLength="51.82" lengthAdjust="spacingAndGlyphs">30</tspan></text>
<text font-family="'Liberation Sans', sans-serif" font-size="43.00" font-weight="400" fill="#484848" stroke="#484848" stroke-width="0.4" stroke-linejoin="miter"><tspan x="2058.01" y="1365.80" textLength="20.18" lengthAdjust="spacingAndGlyphs">-</tspan><tspan x="2079.64" y="1368.30" textLength="51.31" lengthAdjust="spacingAndGlyphs">20</tspan></text>
<text font-family="'Liberation Sans', sans-serif" font-size="43.00" font-weight="400" fill="#484848" stroke="#484848" stroke-width="0.4" stroke-linejoin="miter"><tspan x="2162.65" y="1365.80" textLength="20.81" lengthAdjust="spacingAndGlyphs">-</tspan><tspan x="2182.85" y="1368.30" textLength="41.78" lengthAdjust="spacingAndGlyphs">10</tspan></text>
<text font-family="'Liberation Sans', sans-serif" font-size="43.00" font-weight="400" fill="#484848" stroke="#484848" stroke-width="0.4" stroke-linejoin="miter"><tspan x="2279.23" y="1368.30" textLength="27.92" lengthAdjust="spacingAndGlyphs">0</tspan></text>
<text font-family="'Liberation Sans', sans-serif" font-size="43.00" font-weight="400" fill="#484848" stroke="#484848" stroke-width="0.4" stroke-linejoin="miter"><tspan x="2370.32" y="1368.30" textLength="42.43" lengthAdjust="spacingAndGlyphs">10</tspan></text>
<text font-family="'Liberation Sans', sans-serif" font-size="43.00" font-weight="400" fill="#484848" stroke="#484848" stroke-width="0.4" stroke-linejoin="miter"><tspan x="2465.64" y="1368.30" textLength="51.31" lengthAdjust="spacingAndGlyphs">20</tspan></text>
<text font-family="'Liberation Sans', sans-serif" font-size="28.00" font-weight="400" fill="#767676"><tspan x="1659.62" y="1445.30" letter-spacing="2.043">Zdroje:</tspan> <tspan x="1766.90" y="1445.30" textLength="66.17" lengthAdjust="spacingAndGlyphs">ČSÚ,</tspan> <tspan x="1841.81" y="1445.30" letter-spacing="2.183">Historický</tspan> <tspan x="1995.95" y="1445.30" letter-spacing="2.177">lexikon</tspan> <tspan x="2105.82" y="1445.30" letter-spacing="3.452">obcí</tspan> <tspan x="2177.39" y="1445.30" letter-spacing="2.046">České</tspan> <tspan x="2274.75" y="1445.30" letter-spacing="2.399">republiky</tspan> <tspan x="2416.55" y="1445.30" font-size="29.54" letter-spacing="0.243">1869</tspan><tspan x="2485.08" y="1445.30" textLength="14.04" lengthAdjust="spacingAndGlyphs">-</tspan><tspan x="2500.82" y="1445.30" font-size="29.54" letter-spacing="3.822">2005</tspan></text>
</svg>
</body>
</html>
